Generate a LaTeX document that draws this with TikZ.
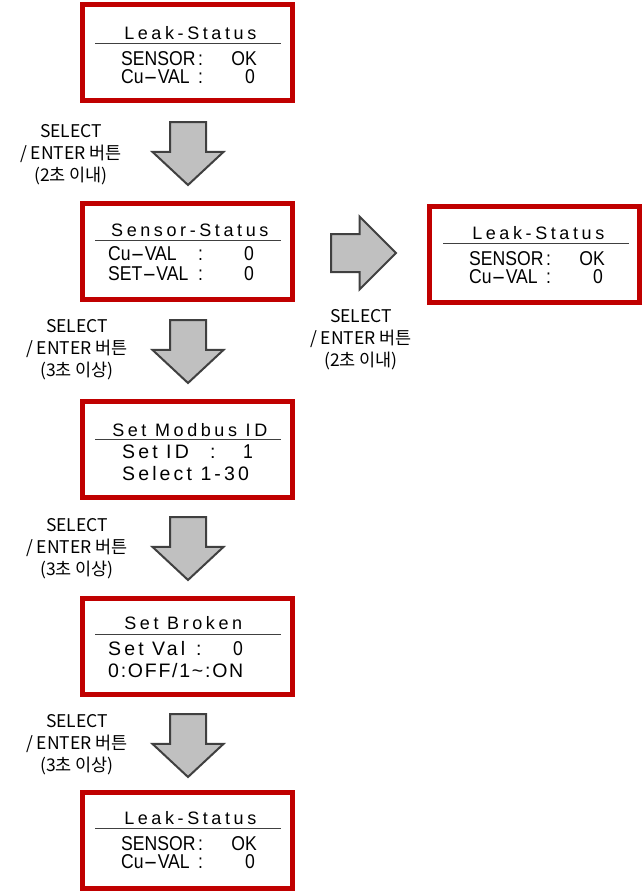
\documentclass[tikz,border=0pt]{standalone}
\usepackage{fontspec}
\newfontfamily\lcdfont[FakeStretch=0.88]{Liberation Sans}
\newfontfamily\lcdwide[LetterSpace=20]{Liberation Sans}
\newfontfamily\lcdmid[LetterSpace=16]{Liberation Sans}
\newfontfamily\lcdnarrow[LetterSpace=9]{Liberation Sans}
\newfontfamily\btnfont{Noto Sans CJK KR}
\usetikzlibrary{shapes.arrows}
\definecolor{lcdred}{HTML}{C00000}
\definecolor{arrfill}{HTML}{C0C0C0}
\definecolor{arrline}{HTML}{404040}
\newcommand{\wdash}{\scalebox{2.4}[1]{-}}

\begin{document}
\begin{tikzpicture}[x=1pt,y=-1pt,
    lcd/.style={draw=lcdred,line width=5pt,minimum width=210pt,minimum height=96pt,inner sep=0pt},
    title/.style={anchor=base,inner sep=0pt,font=\lcdwide\fontsize{18}{20}\selectfont},
    lbl/.style={anchor=base west,inner sep=0pt,font=\lcdfont\fontsize{20}{22}\selectfont},
    lblsp/.style={anchor=base west,inner sep=0pt,font=\lcdmid\fontsize{19.5}{22}\selectfont},
    val/.style={anchor=base east,inner sep=0pt,font=\lcdfont\fontsize{20}{22}\selectfont},
    uline/.style={draw=arrline,line width=1.5pt},
    blockarr/.style={single arrow,draw=arrline,fill=arrfill,line width=2pt,
      inner xsep=0pt,anchor=tail},
    downarr/.style={blockarr,inner ysep=17pt,minimum height=63pt,
      single arrow head extend=17.5pt,single arrow tip angle=94,rotate=-90},
    rightarr/.style={blockarr,inner ysep=18pt,minimum height=65pt,
      single arrow head extend=17.5pt,single arrow tip angle=90},
    btn/.style={align=center,inner sep=0pt,font=\btnfont\fontsize{17.5}{22}\selectfont}]

  \useasboundingbox (0,0) rectangle (643,894);

  % Leak-Status screens
  \foreach \n/\cx/\cy/\dx/\dy in {1/187.5/52.5/0/0, r/534.5/254/348/200, 5/187.5/840.5/0/785} {
    \node[lcd] (lcd\n) at (\cx,\cy) {};
    \node[title] (lcd\n-t) at (190.3+\dx,39.3+\dy) {Leak-Status};
    \draw[uline] (95+\dx,43.3+\dy) -- (281+\dx,43.3+\dy);
    \node[lbl] (lcd\n-a) at (121+\dx,65+\dy) {\makebox[77pt][l]{SENSOR}:};
    \node[val] (lcd\n-av) at (257+\dx,65+\dy) {OK};
    \node[lbl] (lcd\n-b) at (121+\dx,83.3+\dy) {\makebox[77pt][l]{Cu\wdash VAL}:};
    \node[val] (lcd\n-bv) at (255+\dx,83.3+\dy) {0};
  }

  % Sensor-Status
  \node[lcd] (lcd2) at (187.5,251.5) {};
  \node[title] (lcd2-t) at (189.8,236.7) {Sensor-Status};
  \draw[uline] (95,240.7) -- (281,240.7);
  \node[lbl] (lcd2-a) at (108,260) {\makebox[90pt][l]{Cu\wdash VAL}:};
  \node[val] (lcd2-av) at (254,260) {0};
  \node[lbl] (lcd2-b) at (108,280) {\makebox[90pt][l]{SET\wdash VAL}:};
  \node[val] (lcd2-bv) at (254,280) {0};

  % Set Modbus ID
  \node[lcd] (lcd3) at (187.5,449) {};
  \node[title] (lcd3-t) at (189.8,436.7) {Set Modbus ID};
  \draw[uline] (95,439.5) -- (281,439.5);
  \node[lblsp] (lcd3-a) at (122,458.3) {\makebox[88pt][l]{Set ID}:};
  \node[val] (lcd3-av) at (253,458.3) {1};
  \node[lblsp] (lcd3-b) at (122,480) {Select 1-30};

  % Set Broken
  \node[lcd] (lcd4) at (187.5,646) {};
  \node[title] (lcd4-t) at (183.3,629.3) {Set Broken};
  \draw[uline] (95,634.3) -- (281,634.3);
  \node[lblsp] (lcd4-a) at (108,655) {\makebox[88pt][l]{Set Val}:};
  \node[val] (lcd4-av) at (243,655) {0};
  \node[lblsp,font=\lcdnarrow\fontsize{19.5}{22}\selectfont] (lcd4-b) at (108,677.3) {0:OFF/1\textasciitilde:ON};

  % arrows
  \foreach \i/\y in {1/121,2/319,3/516,4/713}
    \node[downarr] (arr\i) at (188,\y) {};
  \node[rightarr] (arrR) at (330,253) {};

  % button labels
  \node[btn] (btn1) at (71,155) {SELECT\\/ ENTER 버튼\\(2초 이내)};
  \foreach \i/\y in {2/333,3/532,4/728}
    \node[btn] (btn\i) at (77,\y+17) {SELECT\\/ ENTER 버튼\\(3초 이상)};
  \node[btn] (btnR) at (361,340) {SELECT\\/ ENTER 버튼\\(2초 이내)};

\end{tikzpicture}
\end{document}
